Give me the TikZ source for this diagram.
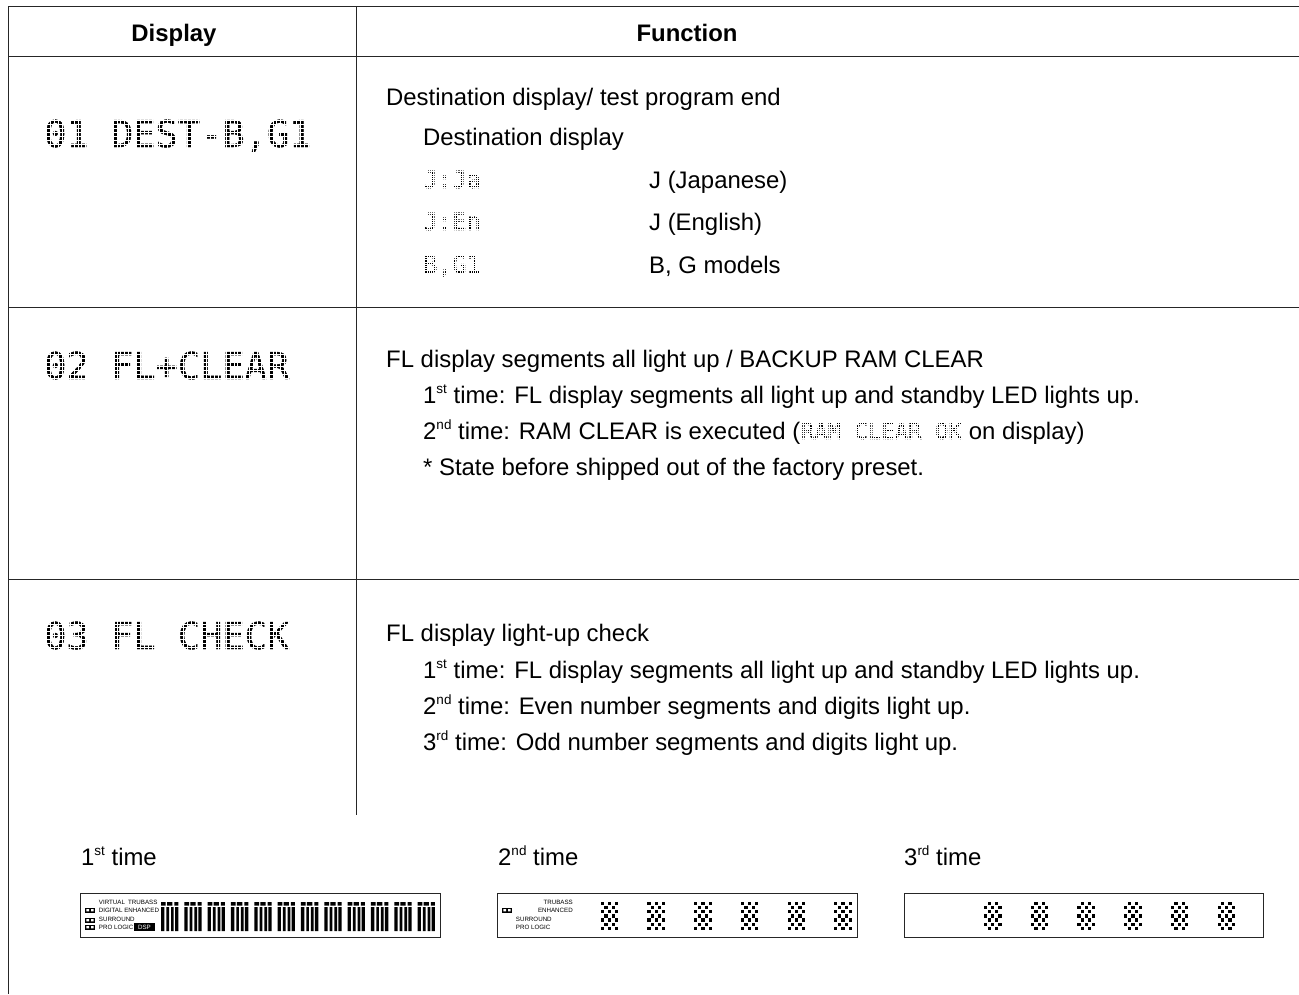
\documentclass[tikz,border=0pt]{standalone}
\usepackage{fontspec}
\usepackage{tikz}
\setmainfont{Liberation Sans}
\newfontfamily\dotfont[FakeBold=1.2]{DejaVu Sans Mono}
\usetikzlibrary{positioning}

\tikzset{
  rule/.style={line width=1pt, color=black!85},
  headtext/.style={inner sep=0pt, anchor=base, font=\fontsize{23.9}{26}\selectfont\bfseries},
  bodytext/.style={inner sep=0pt, anchor=base west, font=\fontsize{23.9}{26}\selectfont},
  bigdots/.style={inner sep=0pt, anchor=base west, font=\fontsize{37}{40}\selectfont\dotfont},
  smalldots/.style={inner sep=0pt, anchor=base west, text=black, font=\fontsize{24}{26}\selectfont\dotfont},
  ramdots/.style={smalldots, font=\fontsize{22.3}{24}\selectfont\dotfont},
  biggrid/.style={white, line width=0.9pt, step=3.9pt},
  smallgrid/.style={white, line width=0.35pt, step=2.2pt},
  panel/.style={line width=1pt, color=black!85},
  tinytext/.style={inner sep=0pt, anchor=base west, font=\fontsize{6.2}{7}\selectfont},
}

\newcommand{\ordsup}[1]{\raisebox{0.38em}{\fontsize{13.5}{14}\selectfont #1}}
% one segment block of the first panel
\newcommand{\fulldigit}[1]{
  \fill (#1,902) rectangle ++(4.7,3.6) (#1+6,902) rectangle ++(5.3,3.6) (#1+13.3,902) rectangle ++(4,3.6);
  \fill (#1,907) rectangle ++(3.3,24) (#1+5.3,907) rectangle ++(2.7,24)
        (#1+10,907) rectangle ++(2.7,24) (#1+14,907) rectangle ++(3.3,24);
}
% checkered block, #2 = 0 or 1 gives the phase
\newcommand{\checkdigit}[2]{
  \foreach \row in {0,...,6} {
    \foreach \col in {0,...,4} {
      \pgfmathparse{int(mod(\row+\col+#2,2))}
      \ifnum\pgfmathresult=0
        \fill (#1+\col*3.6,902+\row*4.1) rectangle ++(3.2,3.2);
      \fi
    }
  }
}
\newcommand{\dolbymark}[2]{
  \fill (#1,#2) rectangle ++(10,4.6);
  \fill[white] (#1+1.4,#2+1.2) rectangle ++(2.6,2.2) (#1+6,#2+1.2) rectangle ++(2.6,2.2);
}

\begin{document}
\begin{tikzpicture}[x=1pt, y=-1pt]
\useasboundingbox (0,0) rectangle (1299,994);

% Table
\draw[rule] (1299,6) -- (8.5,6) -- (8.5,994);
\draw[rule] (8.5,56) -- (1299,56);
\draw[rule] (8.5,307) -- (1299,307);
\draw[rule] (8.5,579) -- (1299,579);
\draw[rule] (356,6) -- (356,815);

% Header
\node[headtext] (display) at (174,41) {Display};
\node[headtext] (function) at (687,41) {Function};

% Display column
\node[bigdots] (dest) at (44,147) {01 DEST-B,G1};
\node[bigdots] (clear) at (44,379) {02 FL+CLEAR};
\node[bigdots] (check) at (44,649) {03 FL CHECK};
\draw[biggrid] (dest.south west) grid (dest.north east);
\draw[biggrid] (clear.south west) grid (clear.north east);
\draw[biggrid] (check.south west) grid (check.north east);

% First row
\node[bodytext] (destend) at (386,105) {Destination display/ test program end};
\node[bodytext] (desttitle) at (423,145) {Destination display};
\node[smalldots] (ja) at (423,188) {J:Ja};
\node[smalldots] (en) at (423,230) {J:En};
\node[smalldots] (bg) at (423,273) {B,G1};
\draw[smallgrid] (ja.south west) grid (ja.north east);
\draw[smallgrid] (en.south west) grid (en.north east);
\draw[smallgrid] (bg.south west) grid (bg.north east);
\node[bodytext] (japanese) at (649,188) {J (Japanese)};
\node[bodytext] (english) at (649,230) {J (English)};
\node[bodytext] (models) at (649,273) {B, G models};

% Second row
\node[bodytext] (cleartitle) at (386,367) {FL display segments all light up / BACKUP RAM CLEAR};
\node[bodytext] (clearone) at (423,403) {1\ordsup{st} time: FL display segments all light up and standby LED lights up.};
\node[bodytext] (cleartwo) at (423,439) {2\ordsup{nd} time: RAM CLEAR is executed (};
\node[ramdots] (ramok) at (cleartwo.base east) {RAM CLEAR OK};
\node[bodytext] (ondisplay) at (ramok.base east) {\ on display)};
\draw[smallgrid] (ramok.south west) grid (ramok.north east);
\node[bodytext] (clearnote) at (423,475) {* State before shipped out of the factory preset.};

% Third row
\node[bodytext] (checktitle) at (386,641) {FL display light-up check};
\node[bodytext] (checkone) at (423,678) {1\ordsup{st} time: FL display segments all light up and standby LED lights up.};
\node[bodytext] (checktwo) at (423,714) {2\ordsup{nd} time: Even number segments and digits light up.};
\node[bodytext] (checkthree) at (423,750) {3\ordsup{rd} time: Odd number segments and digits light up.};

% Panel labels
\node[bodytext] (firsttime) at (81,865) {1\ordsup{st} time};
\node[bodytext] (secondtime) at (498,865) {2\ordsup{nd} time};
\node[bodytext] (thirdtime) at (904,865) {3\ordsup{rd} time};

% Panels
\draw[panel] (80,893) rectangle (440,937);
\draw[panel] (497,893) rectangle (857,937);
\draw[panel] (904,893) rectangle (1263,937);

% First panel
\node[tinytext] (virtual) at (98.7,904) {VIRTUAL};
\node[tinytext] (trubassa) at (128,904) {TRUBASS};
\node[tinytext] (digital) at (98.7,912) {DIGITAL ENHANCED};
\node[tinytext] (surrounda) at (98.7,921.7) {SURROUND};
\node[tinytext] (prologica) at (98.7,929) {PRO LOGIC};
\node[tinytext, fill=black, text=white, minimum width=21pt, minimum height=7.6pt, align=center, anchor=center] (dsp) at (144.5,927) {DSP};
\dolbymark{85}{908}
\dolbymark{85}{918}
\dolbymark{85}{925}
\foreach \n in {0,...,11} {
  \fulldigit{161+\n*23.33}
}

% Second panel
\node[tinytext, anchor=base east] (trubassb) at (573,904) {TRUBASS};
\node[tinytext, anchor=base east] (enhancedb) at (573,912) {ENHANCED};
\node[tinytext] (surroundb) at (515.7,921.7) {SURROUND};
\node[tinytext] (prologicb) at (515.7,929) {PRO LOGIC};
\dolbymark{502}{908}
\foreach \n in {0,...,5} {
  \checkdigit{600.7+\n*46.7}{0}
}

% Third panel
\foreach \n in {0,...,5} {
  \checkdigit{984+\n*46.7}{1}
}
\end{tikzpicture}
\end{document}
